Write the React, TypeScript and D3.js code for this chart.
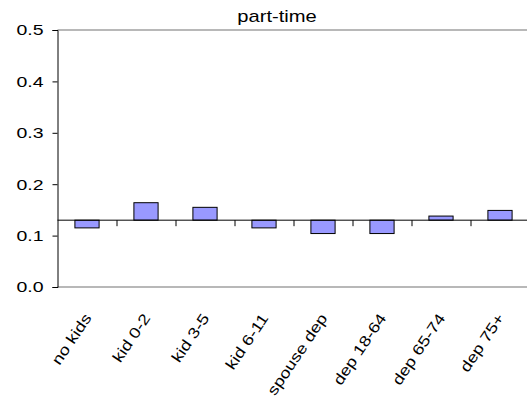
import { useEffect, useRef } from 'react';
import * as d3 from 'd3';

const categories = ["no kids", "kid 0-2", "kid 3-5", "kid 6-11", "spouse dep", "dep 18-64", "dep 65-74", "dep 75+"];
const values = [0.115, 0.164, 0.155, 0.115, 0.104, 0.104, 0.138, 0.149];
const yTicks = [0, 0.1, 0.2, 0.3, 0.4, 0.5];
const crossValue = 0.13;
const title = "part-time";

export default function App() {
    const svgRef = useRef<SVGSVGElement>(null);
    const width = 527;
    const height = 404;

    useEffect(() => {
        if (!svgRef.current) return;
        d3.select(svgRef.current).selectAll("*").remove();

        const svg = d3.select(svgRef.current);
        const margin = { top: 30, right: -2.5, bottom: 117, left: 57.5 };
        const chartWidth = width - margin.left - margin.right;
        const chartHeight = height - margin.top - margin.bottom;
        const font = "'Liberation Sans', Arial, sans-serif";

        const xScale = d3.scaleBand()
            .domain(categories)
            .range([0, chartWidth]);

        const yScale = d3.scaleLinear()
            .domain([0, 0.5])
            .range([chartHeight, 0]);

        const g = svg.append("g")
            .attr("transform", `translate(${margin.left},${margin.top})`);

        // borda da área do gráfico (cinza)
        g.append("line")
            .attr("x1", 0).attr("x2", chartWidth)
            .attr("y1", yScale(0.5)).attr("y2", yScale(0.5))
            .attr("stroke", "#a0a0a0").attr("stroke-width", 1.5);
        g.append("line")
            .attr("x1", 0).attr("x2", chartWidth)
            .attr("y1", yScale(0)).attr("y2", yScale(0))
            .attr("stroke", "#a0a0a0").attr("stroke-width", 1.5);

        // barras a partir da linha de cruzamento
        const barWidth = xScale.bandwidth() * 0.41;
        g.selectAll(".bar")
            .data(categories)
            .enter()
            .append("rect")
            .attr("class", "bar")
            .attr("x", d => (xScale(d) || 0) + (xScale.bandwidth() - barWidth) / 2)
            .attr("y", (d, i) => yScale(Math.max(values[i], crossValue)))
            .attr("width", barWidth)
            .attr("height", (d, i) => Math.abs(yScale(values[i]) - yScale(crossValue)))
            .attr("fill", "#9999ff")
            .attr("stroke", "#000")
            .attr("stroke-width", 1);

        // eixo X cruzando em 0.13
        const xAxis = g.append("g")
            .attr("transform", `translate(0,${yScale(crossValue)})`);
        xAxis.append("line")
            .attr("x1", 0).attr("x2", chartWidth)
            .attr("stroke", "#000").attr("stroke-width", 1);
        xAxis.selectAll(".tick")
            .data(categories.slice(1))
            .enter()
            .append("line")
            .attr("x1", d => Math.round(xScale(d) || 0) + 0.5)
            .attr("x2", d => Math.round(xScale(d) || 0) + 0.5)
            .attr("y1", 0).attr("y2", 6)
            .attr("stroke", "#000");

        // eixo Y
        const yAxis = g.append("g")
            .call(d3.axisLeft(yScale)
                .tickValues(yTicks)
                .tickSize(5)
                .tickFormat(() => ""));
        yAxis.select(".domain").attr("stroke", "#000");
        yAxis.selectAll(".tick text").remove();

        // rótulos do eixo Y (fonte esticada na horizontal)
        g.selectAll(".ylabel")
            .data(yTicks)
            .enter()
            .append("text")
            .attr("class", "ylabel")
            .attr("transform", d => `translate(-14,${yScale(d)}) scale(1.3,1)`)
            .attr("text-anchor", "end")
            .attr("dy", "0.36em")
            .style("font-size", "15px")
            .style("font-family", font)
            .style("fill", "#000")
            .text(d => d3.format(".1f")(d));

        // rótulos das categorias
        g.selectAll(".xlabel")
            .data(categories)
            .enter()
            .append("text")
            .attr("class", "xlabel")
            .attr("transform", d => `translate(${(xScale(d) || 0) + xScale.bandwidth() / 2 + 5},${chartHeight + 31}) rotate(-56) scale(1.22,1)`)
            .attr("text-anchor", "end")
            .style("font-size", "15px")
            .style("font-family", font)
            .style("fill", "#000")
            .text(d => d);

        // título
        svg.append("text")
            .attr("transform", "translate(277,21.5) scale(1.26,1)")
            .attr("text-anchor", "middle")
            .style("font-size", "16px")
            .style("font-family", font)
            .style("fill", "#000")
            .text(title);
    }, []);

    return (
        <div style={{ position: 'absolute', left: 0, top: 0 }}>
            <svg ref={svgRef} width={width} height={height} style={{ display: 'block', background: '#fff' }} />
        </div>
    );
}
